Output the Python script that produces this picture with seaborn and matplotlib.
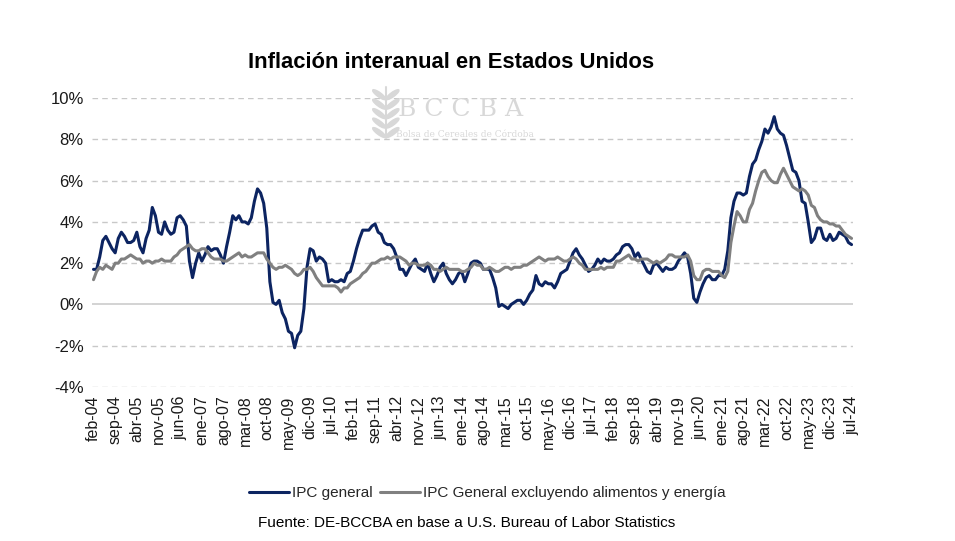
import numpy as np
import pandas as pd
import matplotlib
matplotlib.use("Agg")
import matplotlib.pyplot as plt
from matplotlib.patches import Ellipse
import seaborn as sns

# Monthly YoY inflation, feb-2004 .. jul-2024 (%)
ipc_general = [
    1.7, 1.7, 2.3, 3.1, 3.3, 3.0, 2.7, 2.5, 3.2, 3.5, 3.3,
    3.0, 3.0, 3.1, 3.5, 2.8, 2.5, 3.2, 3.6, 4.7, 4.3, 3.5, 3.4,
    4.0, 3.6, 3.4, 3.5, 4.2, 4.3, 4.1, 3.8, 2.1, 1.3, 2.0, 2.5,
    2.1, 2.4, 2.8, 2.6, 2.7, 2.7, 2.4, 2.0, 2.8, 3.5, 4.3, 4.1,
    4.3, 4.0, 4.0, 3.9, 4.2, 5.0, 5.6, 5.4, 4.9, 3.7, 1.1, 0.1,
    0.0, 0.2, -0.4, -0.7, -1.3, -1.4, -2.1, -1.5, -1.3, -0.2, 1.8, 2.7,
    2.6, 2.1, 2.3, 2.2, 2.0, 1.1, 1.2, 1.1, 1.1, 1.2, 1.1, 1.5,
    1.6, 2.1, 2.7, 3.2, 3.6, 3.6, 3.6, 3.8, 3.9, 3.5, 3.4, 3.0,
    2.9, 2.9, 2.7, 2.3, 1.7, 1.7, 1.4, 1.7, 2.0, 2.2, 1.8, 1.7,
    1.6, 2.0, 1.5, 1.1, 1.4, 1.8, 2.0, 1.5, 1.2, 1.0, 1.2, 1.5,
    1.6, 1.1, 1.5, 2.0, 2.1, 2.1, 2.0, 1.7, 1.7, 1.7, 1.3, 0.8,
    -0.1, 0.0, -0.1, -0.2, 0.0, 0.1, 0.2, 0.2, 0.0, 0.2, 0.5, 0.7,
    1.4, 1.0, 0.9, 1.1, 1.0, 1.0, 0.8, 1.1, 1.5, 1.6, 1.7, 2.1,
    2.5, 2.7, 2.4, 2.2, 1.9, 1.6, 1.7, 1.9, 2.2, 2.0, 2.2, 2.1,
    2.1, 2.2, 2.4, 2.5, 2.8, 2.9, 2.9, 2.7, 2.3, 2.5, 2.2, 1.9,
    1.6, 1.5, 1.9, 2.0, 1.8, 1.6, 1.8, 1.7, 1.7, 1.8, 2.1, 2.3,
    2.5, 2.3, 1.5, 0.3, 0.1, 0.6, 1.0, 1.3, 1.4, 1.2, 1.2, 1.4,
    1.4, 1.7, 2.6, 4.2, 5.0, 5.4, 5.4, 5.3, 5.4, 6.2, 6.8, 7.0,
    7.5, 7.9, 8.5, 8.3, 8.6, 9.1, 8.5, 8.3, 8.2, 7.7, 7.1, 6.5,
    6.4, 6.0, 5.0, 4.9, 4.0, 3.0, 3.2, 3.7, 3.7, 3.2, 3.1, 3.4,
    3.1, 3.2, 3.5, 3.4, 3.3, 3.0, 2.9,
]
ipc_subyacente = [
    1.2, 1.6, 1.8, 1.7, 1.9, 1.8, 1.7, 2.0, 2.0, 2.2, 2.2,
    2.3, 2.4, 2.3, 2.2, 2.2, 2.0, 2.1, 2.1, 2.0, 2.1, 2.1, 2.2,
    2.1, 2.1, 2.1, 2.3, 2.4, 2.6, 2.7, 2.8, 2.9, 2.7, 2.6, 2.6,
    2.7, 2.7, 2.5, 2.3, 2.2, 2.2, 2.2, 2.1, 2.1, 2.2, 2.3, 2.4,
    2.5, 2.3, 2.4, 2.3, 2.3, 2.4, 2.5, 2.5, 2.5, 2.2, 2.0, 1.8,
    1.7, 1.8, 1.8, 1.9, 1.8, 1.7, 1.5, 1.4, 1.5, 1.7, 1.7, 1.8,
    1.6, 1.3, 1.1, 0.9, 0.9, 0.9, 0.9, 0.9, 0.8, 0.6, 0.8, 0.8,
    1.0, 1.1, 1.2, 1.3, 1.5, 1.6, 1.8, 2.0, 2.0, 2.1, 2.2, 2.2,
    2.3, 2.2, 2.3, 2.3, 2.3, 2.2, 2.1, 1.9, 2.0, 2.0, 1.9, 1.9,
    1.9, 2.0, 1.9, 1.7, 1.7, 1.6, 1.7, 1.8, 1.7, 1.7, 1.7, 1.7,
    1.6, 1.6, 1.7, 1.8, 2.0, 1.9, 1.9, 1.7, 1.7, 1.8, 1.7, 1.6,
    1.6, 1.7, 1.8, 1.8, 1.7, 1.8, 1.8, 1.8, 1.9, 1.9, 2.0, 2.1,
    2.2, 2.3, 2.2, 2.1, 2.2, 2.2, 2.2, 2.3, 2.2, 2.1, 2.1, 2.2,
    2.3, 2.2, 2.0, 1.9, 1.7, 1.7, 1.7, 1.7, 1.7, 1.8, 1.7, 1.8,
    1.8, 1.8, 2.1, 2.1, 2.2, 2.3, 2.4, 2.2, 2.2, 2.1, 2.2, 2.2,
    2.2, 2.1, 2.0, 2.1, 2.0, 2.1, 2.2, 2.4, 2.4, 2.3, 2.3, 2.3,
    2.3, 2.4, 2.1, 1.4, 1.2, 1.2, 1.6, 1.7, 1.7, 1.6, 1.6, 1.6,
    1.4, 1.3, 1.6, 3.0, 3.8, 4.5, 4.3, 4.0, 4.0, 4.6, 4.9, 5.5,
    6.0, 6.4, 6.5, 6.2, 6.0, 5.9, 5.9, 6.3, 6.6, 6.3, 6.0, 5.7,
    5.6, 5.5, 5.6, 5.5, 5.3, 4.8, 4.7, 4.3, 4.1, 4.0, 4.0, 3.9,
    3.9, 3.8, 3.8, 3.6, 3.4, 3.3, 3.2,
]
meses = ["ene", "feb", "mar", "abr", "may", "jun",
         "jul", "ago", "sep", "oct", "nov", "dic"]
fechas = pd.date_range("2004-02-01", "2024-07-01", freq="MS")
series = ["IPC general", "IPC General excluyendo alimentos y energía"]
colores = ["#0c2461", "#808080"]

df = pd.DataFrame({
    "idx": np.arange(len(fechas)),
    series[0]: ipc_general,
    series[1]: ipc_subyacente,
})
long = df.melt(id_vars="idx", var_name="serie", value_name="valor")

sns.set_style("white")
plt.rcParams["font.family"] = ["Liberation Sans", "DejaVu Sans"]

fig = plt.figure(figsize=(9.55, 5.41), dpi=100)
ax = fig.add_axes([0.0963, 0.2847, 0.797, 0.534])

for v in range(-4, 11, 2):
    if v == 0:
        ax.axhline(0, color="#d0d0d0", lw=1.3, zorder=0)
    else:
        ax.axhline(v, color="#c8c8c8", lw=1.0, ls=(0, (4, 3)), zorder=0)

sns.lineplot(data=long, x="idx", y="valor", hue="serie", hue_order=series,
             palette=colores, linewidth=2.2, legend=False, ax=ax)

ax.set_xlim(-0.5, len(fechas) - 0.5)
ax.set_ylim(-4, 10)
ax.set_yticks(range(-4, 11, 2))
ax.set_yticklabels([f"{v}%" for v in range(-4, 11, 2)], fontsize=12, color="#1a1a1a")
pos = list(range(0, len(fechas), 7))
ax.set_xticks(pos)
ax.set_xticklabels([f"{meses[fechas[i].month - 1]}-{fechas[i].strftime('%y')}" for i in pos],
                   rotation=90, fontsize=11.5, color="#1a1a1a")
ax.tick_params(axis="both", length=0, pad=6)
ax.set_xlabel("")
ax.set_ylabel("")
sns.despine(ax=ax, left=True, bottom=True)

fig.text(0.472, 0.885, "Inflación interanual en Estados Unidos", ha="center",
         va="center", fontsize=15.8, fontweight="bold", color="black")

# watermark (logo)
wm = "#d8d8d8"
fig.text(0.482, 0.797, "B C C B A", ha="center", va="center", fontsize=18,
         family="DejaVu Serif", color=wm, zorder=0)
fig.text(0.487, 0.752, "Bolsa de Cereales de Córdoba", ha="center", va="center",
         fontsize=6.5, family="DejaVu Serif", color=wm, zorder=0)
cx = 0.404
fig.add_artist(plt.Line2D([cx, cx], [0.745, 0.84], color=wm, lw=1.5,
                          transform=fig.transFigure))
for k, yy in enumerate(np.linspace(0.755, 0.825, 5)):
    for s in (-1, 1):
        fig.add_artist(Ellipse((cx + s * 0.007, yy), 0.006, 0.022, angle=-s * 35,
                               color=wm, transform=fig.transFigure))

handles = [plt.Line2D([], [], color=c, lw=2.2) for c in colores]
fig.legend(handles, series, loc="center", bbox_to_anchor=(0.51, 0.089), ncol=2,
           frameon=False, fontsize=11, handlelength=2.6, handletextpad=0.2,
           columnspacing=0.5)
fig.text(0.489, 0.033, "Fuente: DE-BCCBA en base a U.S. Bureau of Labor Statistics",
         ha="center", va="center", fontsize=11, color="black")

fig.savefig("out.png", dpi=100)
